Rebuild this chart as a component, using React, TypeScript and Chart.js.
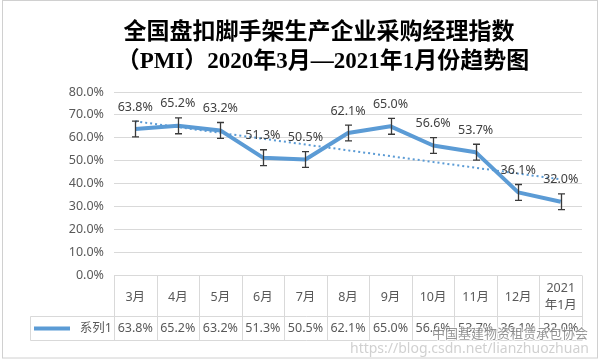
import { useEffect, useRef } from "react";
import { Chart, registerables } from "chart.js";

Chart.register(...registerables);

const titleLines = ["全国盘扣脚手架生产企业采购经理指数", "（PMI）2020年3月—2021年1月份趋势图"];
const categories: (string | string[])[] = ["3月", "4月", "5月", "6月", "7月", "8月", "9月", "10月", "11月", "12月", ["2021", "年1月"]];
const seriesName = "系列1";
const pmiValues = [63.8, 65.2, 63.2, 51.3, 50.5, 62.1, 65.0, 56.6, 53.7, 36.1, 32.0];
const errorAmount = 3.46;
const trendStart = 67.2;
const trendEnd = 41.8;
const yMin = 0;
const yMax = 80;
const yStep = 10;
const watermarkName = "中国基建物资租赁承包协会";
const watermarkUrl = "https://blog.csdn.net/lianzhuozhuan";

const BLUE = "#5B9BD5";
const FONT = '"Noto Sans", "Noto Sans CJK SC", sans-serif';
const GRID = "#D9D9D9";
const TEXT = "#595959";

const decor = {
  id: "excelDecor",
  beforeDraw(chart: any) {
    const ctx = chart.ctx;
    ctx.save();
    ctx.fillStyle = "#ffffff";
    ctx.fillRect(0, 0, chart.width, chart.height);
    ctx.restore();
  },
  afterDatasetsDraw(chart: any) {
    const ctx = chart.ctx;
    const xs = chart.scales.x;
    const ys = chart.scales.y;
    ctx.save();
    // error bars
    ctx.strokeStyle = "#3a3a3a";
    ctx.lineWidth = 1.3;
    pmiValues.forEach((v, i) => {
      const x = Math.round(xs.getPixelForValue(i)) + 0.5;
      const yt = ys.getPixelForValue(v + errorAmount);
      const yb = ys.getPixelForValue(v - errorAmount);
      ctx.beginPath();
      ctx.moveTo(x, yt);
      ctx.lineTo(x, yb);
      ctx.moveTo(x - 3.5, yt);
      ctx.lineTo(x + 3.5, yt);
      ctx.moveTo(x - 3.5, yb);
      ctx.lineTo(x + 3.5, yb);
      ctx.stroke();
    });
    // data labels
    ctx.fillStyle = "#404040";
    ctx.font = `12.5px ${FONT}`;
    ctx.textAlign = "center";
    ctx.textBaseline = "middle";
    pmiValues.forEach((v, i) => {
      const x = xs.getPixelForValue(i);
      const y = ys.getPixelForValue(v);
      ctx.fillText(`${v.toFixed(1)}%`, x, y - 22);
    });
    ctx.restore();
  },
  afterDraw(chart: any) {
    const ctx = chart.ctx;
    const xs = chart.scales.x;
    const area = chart.chartArea;
    const n = categories.length;
    const left = area.left;
    const right = area.right;
    const step = (right - left) / n;
    const top = Math.round(area.bottom) + 0.5;
    const mid = 316.5;
    const bot = 340.5;
    const legLeft = 30.5;
    ctx.save();

    // title
    ctx.fillStyle = "#000000";
    ctx.font = `bold 23px "Liberation Serif", "Noto Sans CJK SC", serif`;
    ctx.textAlign = "center";
    ctx.textBaseline = "middle";
    ctx.fillText(titleLines[0], 319, 33);
    ctx.fillText(titleLines[1], 323, 62);

    // data table
    ctx.strokeStyle = GRID;
    ctx.lineWidth = 1;
    ctx.beginPath();
    for (let i = 0; i <= n; i++) {
      const x = Math.round(left + i * step) + 0.5;
      ctx.moveTo(x, top);
      ctx.lineTo(x, bot);
    }
    ctx.moveTo(left, top);
    ctx.lineTo(right, top);
    ctx.moveTo(legLeft, mid);
    ctx.lineTo(right, mid);
    ctx.moveTo(legLeft, bot);
    ctx.lineTo(right, bot);
    ctx.moveTo(legLeft, mid);
    ctx.lineTo(legLeft, bot);
    ctx.stroke();

    ctx.fillStyle = TEXT;
    ctx.font = `12.5px ${FONT}`;
    ctx.textAlign = "center";
    ctx.textBaseline = "middle";
    categories.forEach((c, i) => {
      const x = xs.getPixelForValue(i);
      if (Array.isArray(c)) {
        ctx.fillText(c[0], x, 288);
        ctx.fillText(c[1], x, 305);
      } else {
        ctx.fillText(c, x, 297);
      }
      ctx.fillText(`${pmiValues[i].toFixed(1)}%`, x, 328.5);
    });

    // legend key
    ctx.strokeStyle = BLUE;
    ctx.lineWidth = 4;
    ctx.beginPath();
    ctx.moveTo(34, 328.5);
    ctx.lineTo(70, 328.5);
    ctx.stroke();
    ctx.textAlign = "right";
    ctx.fillText(seriesName, 112, 328.5);

    // watermark
    ctx.textAlign = "left";
    ctx.font = `14px ${FONT}`;
    ctx.fillStyle = "rgba(170,170,170,0.55)";
    ctx.fillText(watermarkUrl, 350, 349);
    ctx.font = `13px "Noto Sans CJK SC", sans-serif`;
    ctx.lineWidth = 2;
    ctx.strokeStyle = "rgba(255,255,255,0.6)";
    ctx.strokeText(watermarkName, 432, 333);
    ctx.fillStyle = "rgba(80,80,80,0.6)";
    ctx.fillText(watermarkName, 432, 333);

    // outer border
    ctx.strokeStyle = "#D0D0D0";
    ctx.lineWidth = 1;
    ctx.strokeRect(2.5, 0.5, 595, 357.5);
    ctx.restore();
  },
};

export default function App() {
  const ref = useRef<HTMLCanvasElement | null>(null);
  useEffect(() => {
    if (!ref.current) return;
    const n = categories.length;
    const trendData = categories.map((_, i) => (i === 0 ? trendStart : i === n - 1 ? trendEnd : null));
    const chart = new Chart(ref.current, {
      type: "line",
      data: {
        labels: categories.map((c) => (Array.isArray(c) ? c.join("") : c)),
        datasets: [
          {
            label: "trend",
            data: trendData,
            borderColor: BLUE,
            borderWidth: 2,
            borderDash: [2, 3],
            pointRadius: 0,
            spanGaps: true,
            fill: false,
          },
          {
            label: seriesName,
            data: pmiValues,
            borderColor: BLUE,
            borderWidth: 4,
            pointRadius: 0,
            tension: 0,
            borderJoinStyle: "round",
            fill: false,
          },
        ],
      },
      options: {
        animation: false,
        responsive: false,
        devicePixelRatio: 1,
        layout: { padding: { top: 92, right: 18, bottom: 85, left: 0 } },
        plugins: { legend: { display: false }, tooltip: { enabled: false }, title: { display: false } },
        scales: {
          x: { type: "category", display: false, offset: true },
          y: {
            min: yMin,
            max: yMax,
            ticks: {
              stepSize: yStep,
              color: TEXT,
              font: { family: FONT, size: 12.5 },
              padding: 10,
              callback: (v: any) => `${Number(v).toFixed(1)}%`,
            },
            grid: { color: GRID, drawTicks: false },
            border: { display: false },
            afterFit: (s: any) => {
              s.width = 114;
            },
          },
        },
      },
      plugins: [decor],
    });
    return () => chart.destroy();
  }, []);
  return (
    <div style={{ position: "fixed", left: 0, top: 0, width: 600, height: 360, background: "#fff" }}>
      <canvas ref={ref} width={600} height={360} />
    </div>
  );
}
